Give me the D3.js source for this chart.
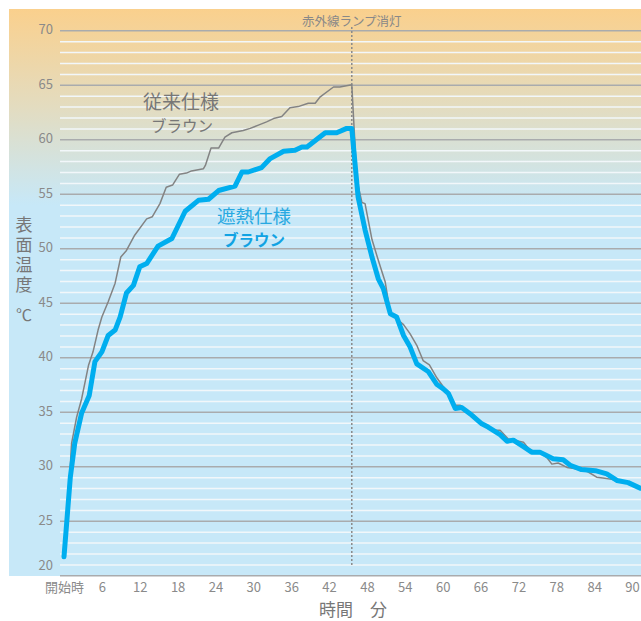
<!DOCTYPE html>
<html>
<head>
<meta charset="utf-8">
<script src="https://cdn.jsdelivr.net/npm/d3@7"></script>
<style>
  body { margin: 0; background: #fff; }
  text { font-family: "Noto Sans CJK JP", "Noto Sans", sans-serif; }
</style>
</head>
<body>
<svg id="canvas" width="641" height="621"></svg>
<script>
// ---------------------------------------------------------------- //
// Data (minutes, surface temperature in C)

var blue_t = [0, 1.0, 1.7, 2.8, 4.0, 4.9, 6.0, 7.0, 8.1, 8.9, 9.9, 11.0, 12.0, 13.1, 14.9, 17.1, 19.2, 21.3, 22.9, 24.5, 27.1, 28.2, 29.2, 31.3, 32.6, 34.8, 36.6, 37.7, 38.5, 41.4, 43.2, 44.8, 45.6,
  46.6, 47.7, 48.8, 49.8, 50.6, 51.7, 52.7, 53.8, 54.8, 55.9, 57.7, 59.1, 60.1, 60.9, 62.0, 63.0, 64.6, 66.2, 67.2, 69.1, 70.2, 71.2, 72.8, 74.1, 75.4, 77.5, 79.1, 80.2, 82.0, 84.2, 86.0, 87.6, 89.4, 91.3];
var blue_v = [21.7, 29.0, 32.1, 34.9, 36.5, 39.6, 40.5, 42.0, 42.5, 43.7, 45.9, 46.6, 48.3, 48.6, 50.2, 50.9, 53.4, 54.4, 54.5, 55.3, 55.7, 57.0, 57.0, 57.4, 58.2, 58.9, 59.0, 59.3, 59.3, 60.6, 60.6, 61.0, 61.0,
  54.7, 51.7, 49.2, 47.2, 46.3, 44.0, 43.7, 42.0, 41.0, 39.4, 38.7, 37.5, 37.1, 36.7, 35.3, 35.4, 34.7, 33.9, 33.6, 32.9, 32.3, 32.4, 31.8, 31.3, 31.3, 30.7, 30.6, 30.1, 29.7, 29.6, 29.3, 28.7, 28.5, 28.0];

var gray_t = [0, 1.0, 1.2, 2.0, 2.8, 3.9, 4.6, 5.4, 6.0, 7.0, 8.1, 9.0, 9.9, 11.2, 13.1, 14.0, 15.2, 16.2, 17.2, 18.3, 19.4, 20.2, 22.1, 22.4, 23.3, 24.5, 25.5, 26.6, 28.4, 29.5, 30.8, 32.1, 33.2, 34.5, 35.8, 37.1, 38.7, 39.8, 40.6, 42.7, 43.7, 45.6,
  46.4, 47.2, 47.7, 48.8, 49.8, 50.9, 51.7, 53.8, 54.8, 55.9, 56.9, 57.9, 59.1, 60.1, 62.0, 62.8, 64.9, 66.2, 68.3, 69.1, 70.4, 72.8, 73.8, 75.4, 76.5, 77.3, 78.3, 79.7, 82.0, 83.0, 84.4, 85.7, 86.8, 87.6, 89.4, 91.3];
var gray_v = [21.7, 30.0, 32.1, 34.5, 36.2, 39.3, 40.5, 42.5, 43.7, 45.1, 46.8, 49.2, 49.8, 51.2, 52.7, 52.9, 54.1, 55.6, 55.8, 56.8, 56.9, 57.1, 57.3, 57.6, 59.2, 59.2, 60.2, 60.6, 60.8, 61.0, 61.3, 61.6, 61.9, 62.1, 62.9, 63.0, 63.3, 63.3, 63.9, 64.8, 64.8, 65.0,
  56.3, 54.2, 54.1, 50.8, 48.9, 46.9, 44.0, 43.0, 42.2, 41.1, 39.7, 39.3, 38.1, 37.3, 35.6, 35.6, 34.7, 33.9, 33.3, 33.3, 32.5, 32.2, 31.5, 31.3, 30.8, 30.2, 30.3, 29.9, 29.7, 29.5, 29.0, 28.9, 28.8, 28.7, 28.5, 28.0];

var x_ticks = [0, 6, 12, 18, 24, 30, 36, 42, 48, 54, 60, 66, 72, 78, 84, 90];
var y_ticks = [20, 25, 30, 35, 40, 45, 50, 55, 60, 65, 70];
var lamp_off = 45.6;

// ---------------------------------------------------------------- //
// Scales

var svg = d3.select('#canvas');
var x = d3.scaleLinear().domain([0, 90]).range([64, 632]);
var y = d3.scaleLinear().domain([20, 70]).range([575.3, 30.3]);

// ---------------------------------------------------------------- //
// Background

var defs = svg.append('defs');
var grad = defs.append('linearGradient').attr('id', 'bg').attr('gradientUnits', 'userSpaceOnUse')
  .attr('x1', 0).attr('y1', 9).attr('x2', 0).attr('y2', 205);
grad.append('stop').attr('offset', '0').attr('stop-color', '#fad08d');
grad.append('stop').attr('offset', '0.5').attr('stop-color', '#e3dcc0');
grad.append('stop').attr('offset', '1').attr('stop-color', '#c7e8f8');

svg.append('rect').attr('x', 9).attr('y', 9).attr('width', 632).attr('height', 567).attr('fill', 'url(#bg)');

// grid lines (minor white every 1, major gray every 5)
var grid = svg.append('g').attr('transform', 'translate(60,0)')
  .call(d3.axisLeft(y).tickValues(d3.range(20, 71)).tickSize(-581).tickFormat(''));
grid.select('.domain').remove();
grid.selectAll('.tick line')
  .attr('stroke', function(d){ return d % 5 == 0 ? '#a9abad' : '#f2f7fa'; })
  .attr('stroke-width', 1.5);

// ---------------------------------------------------------------- //
// Axes labels

var y_axis = svg.append('g').attr('transform', 'translate(53,0)')
  .call(d3.axisLeft(y).tickValues(y_ticks).tickSize(0).tickPadding(0));
y_axis.select('.domain').remove();
y_axis.selectAll('.tick').attr('transform', function(d){ return 'translate(0,' + Math.min(y(d), 566) + ')'; });
y_axis.selectAll('text').attr('fill', '#8a8a8a').style('font-size', '13px');

var x_axis = svg.append('g').attr('transform', 'translate(0,583)')
  .call(d3.axisBottom(x).tickValues(x_ticks).tickSize(0).tickPadding(0)
    .tickFormat(function(d){ return d == 0 ? '開始時' : d; }));
x_axis.select('.domain').remove();
x_axis.selectAll('text').attr('fill', '#8a8a8a').style('font-size', '13px');

svg.append('text').attr('x', 353).attr('y', 616).attr('text-anchor', 'middle')
  .attr('fill', '#777').style('font-size', '17px').text('時間　分');

// vertical axis title
svg.append('text').attr('x', 24).attr('y', 216)
  .style('writing-mode', 'vertical-rl').style('letter-spacing', '3px')
  .attr('fill', '#777').style('font-size', '17px').text('表面温度');
svg.append('text').attr('x', 24).attr('y', 321).attr('text-anchor', 'middle')
  .attr('fill', '#777').style('font-size', '16px').text('℃');

// ---------------------------------------------------------------- //
// Lamp off marker

svg.append('line').attr('x1', x(lamp_off)).attr('x2', x(lamp_off)).attr('y1', 27).attr('y2', 565)
  .attr('stroke', '#8a8a8a').attr('stroke-width', 1.5).attr('stroke-dasharray', '2,2');
svg.append('text').attr('x', x(lamp_off)).attr('y', 26).attr('text-anchor', 'middle')
  .attr('fill', '#888').style('font-size', '12.5px').text('赤外線ランプ消灯');

// ---------------------------------------------------------------- //
// Lines

var line = d3.line().x(function(d){ return x(d[0]); }).y(function(d){ return y(d[1]); });

svg.append('path').datum(d3.zip(gray_t, gray_v)).attr('d', line)
  .attr('fill', 'none').attr('stroke', '#838383').attr('stroke-width', 1.5).attr('stroke-linejoin', 'round');
svg.append('path').datum(d3.zip(blue_t, blue_v)).attr('d', line)
  .attr('fill', 'none').attr('stroke', '#00aeef').attr('stroke-width', 5)
  .attr('stroke-linejoin', 'round').attr('stroke-linecap', 'round');

// ---------------------------------------------------------------- //
// Series labels

svg.append('text').attr('x', 181).attr('y', 109).attr('text-anchor', 'middle')
  .attr('fill', '#777').style('font-size', '19px').text('従来仕様');
svg.append('text').attr('x', 182).attr('y', 132).attr('text-anchor', 'middle')
  .attr('fill', '#777').style('font-size', '15.5px').text('ブラウン');
svg.append('text').attr('x', 254).attr('y', 223).attr('text-anchor', 'middle')
  .attr('fill', '#29a9e1').style('font-size', '18.5px').text('遮熱仕様');
svg.append('text').attr('x', 254).attr('y', 246).attr('text-anchor', 'middle')
  .attr('fill', '#12a3e3').style('font-size', '15.5px').style('font-weight', 'bold').text('ブラウン');
</script>
</body>
</html>
